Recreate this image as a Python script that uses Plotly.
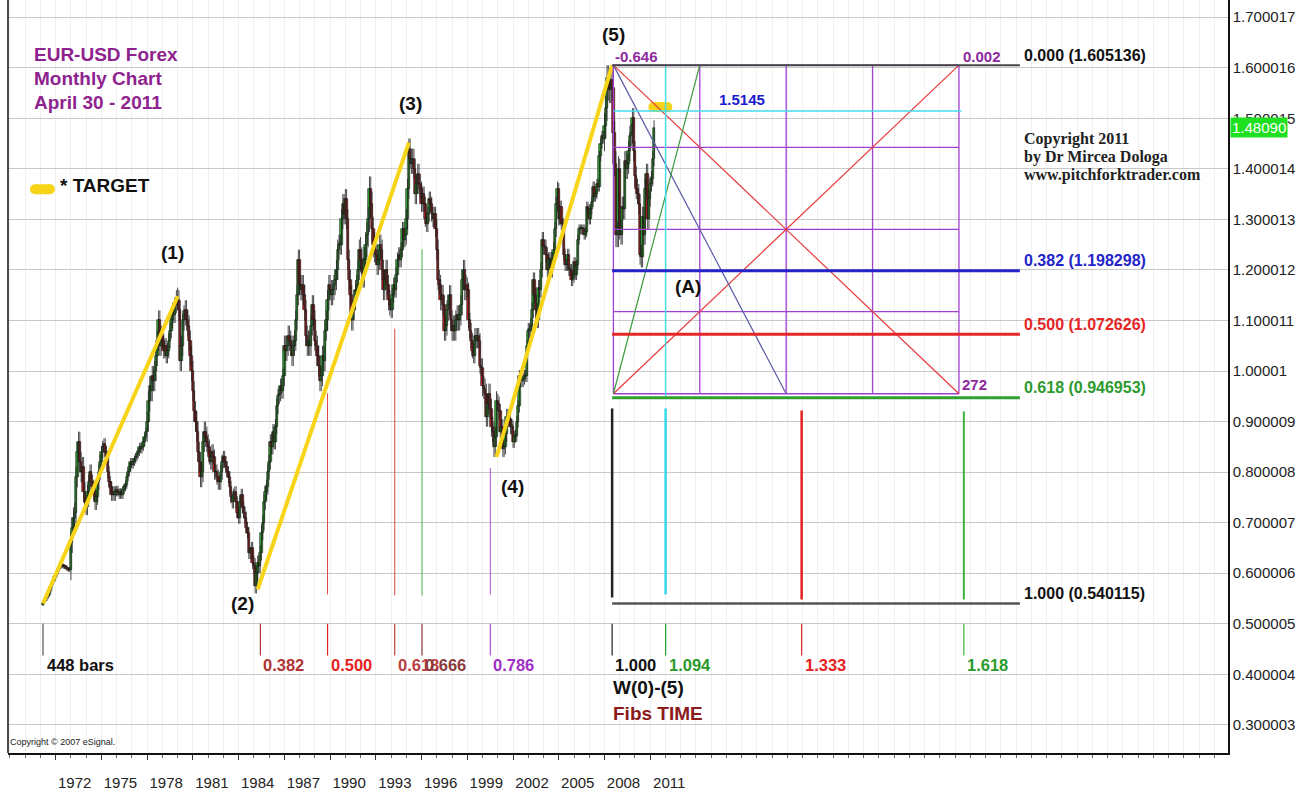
"""EUR-USD monthly chart with Elliott waves, Fibonacci price and time levels."""

import plotly.graph_objects as go

# === Monthly closes (first bar = March 1971) ===
closes_1971_1979 = [
    0.541, 0.545, 0.548, 0.552, 0.556, 0.565, 0.572, 0.580, 0.585, 0.592,
    0.596, 0.602, 0.608, 0.612, 0.614, 0.615, 0.613, 0.612, 0.611, 0.608, 0.607, 0.606,
    0.660, 0.690, 0.710, 0.720, 0.790, 0.840, 0.860, 0.820, 0.800, 0.810, 0.760, 0.740,
    0.730, 0.760, 0.780, 0.800, 0.780, 0.770, 0.760, 0.740, 0.750, 0.780, 0.800, 0.820,
    0.840, 0.850, 0.855, 0.840, 0.830, 0.800, 0.780, 0.770, 0.755, 0.760, 0.755, 0.760,
    0.765, 0.760, 0.755, 0.760, 0.755, 0.765, 0.770, 0.775, 0.790, 0.800, 0.810, 0.820,
    0.815, 0.820, 0.825, 0.830, 0.835, 0.840, 0.850, 0.845, 0.850, 0.860, 0.870, 0.880,
    0.900, 0.940, 0.970, 0.960, 0.990, 0.980, 1.000, 1.030, 1.060, 1.100, 1.050, 1.070,
    1.060, 1.040, 1.050, 1.030, 1.040, 1.060, 1.080, 1.100, 1.120, 1.110, 1.130, 1.145,
]
closes_1980_1989 = [
    1.140, 1.120, 1.020, 1.050, 1.100, 1.110, 1.120, 1.100, 1.090, 1.060, 1.030, 1.000,
    0.960, 0.920, 0.900, 0.880, 0.840, 0.820, 0.790, 0.800, 0.860, 0.880, 0.870, 0.860,
    0.850, 0.830, 0.820, 0.840, 0.830, 0.800, 0.800, 0.790, 0.780, 0.780, 0.800, 0.820,
    0.830, 0.820, 0.810, 0.800, 0.790, 0.770, 0.750, 0.740, 0.755, 0.760, 0.740, 0.720,
    0.710, 0.740, 0.755, 0.730, 0.720, 0.710, 0.690, 0.680, 0.640, 0.640, 0.650, 0.620,
    0.615, 0.575, 0.600, 0.620, 0.615, 0.640, 0.680, 0.700, 0.740, 0.760, 0.770, 0.800,
    0.820, 0.860, 0.850, 0.880, 0.860, 0.890, 0.930, 0.950, 0.955, 0.970, 0.960, 0.990,
    1.050, 1.040, 1.050, 1.070, 1.060, 1.050, 1.030, 1.050, 1.060, 1.100, 1.150, 1.220,
    1.170, 1.160, 1.170, 1.150, 1.120, 1.070, 1.050, 1.060, 1.050, 1.090, 1.130, 1.100,
    1.060, 1.050, 1.030, 1.010, 0.980, 0.990, 1.030, 1.020, 1.080, 1.100, 1.140, 1.170,
]
closes_1990_1999 = [
    1.160, 1.150, 1.160, 1.170, 1.180, 1.200, 1.240, 1.250, 1.250, 1.300, 1.330, 1.310,
    1.340, 1.300, 1.220, 1.180, 1.150, 1.100, 1.120, 1.140, 1.160, 1.170, 1.200, 1.240,
    1.220, 1.200, 1.190, 1.220, 1.250, 1.270, 1.300, 1.360, 1.330, 1.280, 1.250, 1.240,
    1.230, 1.210, 1.220, 1.250, 1.240, 1.200, 1.160, 1.180, 1.200, 1.170, 1.140, 1.130,
    1.120, 1.150, 1.170, 1.160, 1.190, 1.220, 1.230, 1.220, 1.240, 1.280, 1.260, 1.270,
    1.300, 1.360, 1.440, 1.420, 1.410, 1.420, 1.400, 1.350, 1.370, 1.390, 1.370, 1.360,
    1.330, 1.350, 1.330, 1.300, 1.290, 1.310, 1.340, 1.330, 1.310, 1.300, 1.310, 1.280,
    1.240, 1.180, 1.170, 1.140, 1.150, 1.130, 1.080, 1.090, 1.120, 1.130, 1.150, 1.100,
    1.080, 1.090, 1.080, 1.100, 1.110, 1.100, 1.110, 1.130, 1.180, 1.200, 1.160, 1.170,
    1.160, 1.100, 1.080, 1.060, 1.040, 1.030, 1.070, 1.060, 1.070, 1.060, 1.010, 1.005,
]
closes_2000_2011 = [
    0.970, 0.965, 0.955, 0.910, 0.935, 0.955, 0.925, 0.890, 0.880, 0.850, 0.870, 0.940,
    0.935, 0.920, 0.880, 0.890, 0.845, 0.850, 0.875, 0.910, 0.910, 0.905, 0.890, 0.890,
    0.860, 0.870, 0.872, 0.900, 0.930, 0.990, 0.980, 0.980, 0.985, 0.990, 0.990, 1.050,
    1.080, 1.080, 1.090, 1.120, 1.180, 1.150, 1.120, 1.100, 1.165, 1.160, 1.200, 1.260,
    1.245, 1.245, 1.230, 1.200, 1.220, 1.220, 1.200, 1.220, 1.240, 1.280, 1.330, 1.360,
    1.300, 1.325, 1.290, 1.290, 1.230, 1.210, 1.210, 1.230, 1.200, 1.200, 1.180, 1.185,
    1.215, 1.190, 1.210, 1.260, 1.280, 1.280, 1.280, 1.280, 1.270, 1.275, 1.325, 1.320,
    1.300, 1.320, 1.335, 1.365, 1.345, 1.350, 1.370, 1.365, 1.425, 1.450, 1.465, 1.460,
    1.485, 1.520, 1.580, 1.560, 1.555, 1.575, 1.560, 1.470, 1.410, 1.270, 1.270, 1.400,
    1.280, 1.270, 1.325, 1.320, 1.415, 1.400, 1.410, 1.435, 1.465, 1.470, 1.500, 1.435,
    1.385, 1.360, 1.350, 1.330, 1.230, 1.225, 1.305, 1.270, 1.360, 1.390, 1.300, 1.340,
    1.370, 1.380, 1.420, 1.481,
]
first_open = 0.538
last_price = 1.48090

# typical wick length beyond the candle body, per year 1971..2011
wick_by_year = [
    0.003, 0.004, 0.020, 0.015, 0.012, 0.008, 0.008, 0.020, 0.015, 0.020,
    0.020, 0.015, 0.012, 0.012, 0.015, 0.015, 0.020, 0.020, 0.020, 0.020,
    0.020, 0.025, 0.020, 0.015, 0.020, 0.015, 0.020, 0.020, 0.015, 0.020,
    0.015, 0.012, 0.015, 0.015, 0.012, 0.010, 0.010, 0.025, 0.020, 0.020,
    0.015,
]

# Elliott wave pivots (bar index, price)
wave_bars = [0, 106, 169, 288, 357, 448]
wave_prices = [0.540, 1.148, 0.568, 1.452, 0.830, 1.605]
wave_names = ["(1)", "(2)", "(3)", "(4)", "(5)", "(A)"]
wave_label_bars = [102.3, 157.4, 288.9, 369.2, 448.7, 507.7]
wave_label_prices = [1.2335, 0.5399, 1.529, 0.7724, 1.665, 1.1665]

# Year axis
years = [1972, 1975, 1978, 1981, 1984, 1987, 1990, 1993, 1996, 1999, 2002, 2005, 2008, 2011]

# Fibonacci price retracement of (0)-(5)
fib_high = 1.605136
fib_low = 0.540115
fib_price_ratios = [0.000, 0.382, 0.500, 0.618, 1.000]
fib_price_colors = ["#444444", "#2424c8", "#e52626", "#30a030", "#555555"]
fib_price_label_colors = ["#111111", "#2424c8", "#e52626", "#2e9a2e", "#111111"]
fib_price_widths = [2, 3, 3, 3, 2.5]

# Fibonacci time ratios of the 448 bar wave (0)-(5)
wave_bar_count = 448
time_ratios = [0.382, 0.500, 0.618, 0.666, 0.786, 1.000, 1.094, 1.333, 1.618]
time_labels = ["0.382", "0.500", "0.618", "0.666", "0.786", "1.000", "1.094", "1.333", "1.618"]
time_label_colors = ["#b03434", "#e52222", "#b84040", "#8b3a3a", "#a030c8",
                     "#111111", "#2a9a2a", "#e52222", "#2a9a2a"]
time_tick_colors = ["#b03434", "#e52222", "#b84040", "#8b3a3a", "#b050d8",
                    "#222222", "#2a9a2a", "#e52222", "#3cb43c"]
time_line_colors = [None, "#e04040", "#d84a4a", "#4cbc4c", "#b050d8",
                    "#222222", "#35d8ea", "#e52222", "#3cb43c"]
time_line_tops = [None, 0.956, 1.084, 1.241, 0.808, 0.926, 0.926, 0.922, 0.920]
time_line_bottoms = [None, 0.558, 0.556, 0.556, 0.558, 0.552, 0.558, 0.548, 0.548]
time_line_widths = [None, 1, 1, 1, 1, 2.5, 2.5, 2.5, 2]

# Square of price / time box
box_start = 449
box_bars = 272
box_top = 1.605136
box_bottom = 0.955
target_level = 1.5145

# y axis ticks
y_ticks = [0.300003, 0.400004, 0.500005, 0.600006, 0.700007, 0.800008, 0.900009,
           1.00001, 1.100011, 1.200012, 1.300013, 1.400014, 1.500015, 1.600016, 1.700017]

FONT = "Liberation Sans, Arial, sans-serif"
PURPLE = "#8e228e"
YELLOW = "#f7d417"

closes = closes_1971_1979 + closes_1980_1989 + closes_1990_1999 + closes_2000_2011
bars = list(range(len(closes)))
opens = [first_open] + closes[:-1]
bar_years = [(b + 2) // 12 for b in bars]
highs = [max(o, c) + wick_by_year[y] for o, c, y in zip(opens, closes, bar_years)]
lows = [min(o, c) - wick_by_year[y] for o, c, y in zip(opens, closes, bar_years)]

fig = go.Figure()

# wicks
wx, wy = [], []
for b, h, l in zip(bars, highs, lows):
    wx += [b, b, None]
    wy += [l, h, None]
fig.add_trace(go.Scatter(x=wx, y=wy, mode="lines", line=dict(color="#1a1a1a", width=0.8),
                         showlegend=False, hoverinfo="skip"))

# candle bodies
fig.add_trace(go.Bar(
    x=bars,
    y=[max(abs(c - o), 0.003) for o, c in zip(opens, closes)],
    base=[min(o, c) for o, c in zip(opens, closes)],
    width=1.9,
    marker=dict(color=["#2fae2f" if c >= o else "#b82222" for o, c in zip(opens, closes)],
                line=dict(color="#161616", width=0.6)),
    showlegend=False, hoverinfo="skip",
))

shapes = []


def seg(x0, y0, x1, y1, color, width=1):
    shapes.append(dict(type="line", xref="x", yref="y", x0=x0, y0=y0, x1=x1, y1=y1,
                       line=dict(color=color, width=width)))


# yellow impulse legs 0-1, 2-3, 4-5
for i in (0, 2, 4):
    seg(wave_bars[i], wave_prices[i], wave_bars[i + 1], wave_prices[i + 1], YELLOW, 4)

# price box
box_end = box_start + box_bars
for k in range(5):
    bx = box_start + k * box_bars / 4
    seg(bx, box_bottom, bx, box_top, "#a040d0", 1.3)
    py = box_bottom + k * (box_top - box_bottom) / 4
    seg(box_start, py, box_end, py, "#a040d0", 1.3)
seg(box_start, box_top, box_end, box_bottom, "#e83a3a", 1.2)
seg(box_start, box_bottom, box_end, box_top, "#e83a3a", 1.2)
seg(box_start, box_top, box_start + box_bars / 2, box_bottom, "#5a5aa8", 1.2)
seg(box_start, box_bottom, box_start + box_bars / 4, box_top, "#3a9a3a", 1.2)
seg(box_start, target_level, box_end + 2, target_level, "#45dcec", 1.5)
seg(wave_bar_count * 1.094, box_top, wave_bar_count * 1.094, 0.95, "#45dcec", 1.5)

# fib price levels
fib_line_end = 769
for r, col, w in zip(fib_price_ratios, fib_price_colors, fib_price_widths):
    lvl = fib_high - r * (fib_high - fib_low)
    seg(wave_bar_count, lvl, fib_line_end, lvl, col, w)

# fib time lines and ticks
seg(0, 0.500, 0, 0.437, "#555555", 1.2)
for r, tcol, lcol, top, bot, w in zip(time_ratios, time_tick_colors, time_line_colors,
                                      time_line_tops, time_line_bottoms, time_line_widths):
    bx = wave_bar_count * r
    seg(bx, 0.500, bx, 0.437, tcol, 1.2)
    if top is not None:
        seg(bx, top, bx, bot, lcol, w)

# left frame
shapes.append(dict(type="line", xref="paper", yref="paper", x0=0, x1=0, y0=0, y1=1,
                   line=dict(color="#111111", width=1.5)))

# yellow target pills
for xs, yv in (([480.5, 491.5], 1.5222), ([-6.3, 5.5], 1.3596)):
    fig.add_trace(go.Scatter(
        x=xs, y=[yv, yv], mode="lines+markers",
        line=dict(color=YELLOW, width=10), marker=dict(color=YELLOW, size=10),
        showlegend=False, hoverinfo="skip",
    ))

ann = []


def text(x, y, s, color="#111111", size=19, bold=True, xanchor="left", family=FONT, yshift=0):
    ann.append(dict(x=x, y=y, xref="x", yref="y", text=f"<b>{s}</b>" if bold else s,
                    showarrow=False, xanchor=xanchor, yanchor="middle", yshift=yshift,
                    font=dict(family=family, size=size, color=color)))


text(-8.7, 1.6256, "EUR-USD Forex", PURPLE)
text(-8.7, 1.5783, "Monthly Chart", PURPLE)
text(-8.7, 1.5310, "April 30 - 2011", PURPLE)
text(11.8, 1.3675, "* TARGET")

for name, bx, py in zip(wave_names, wave_label_bars, wave_label_prices):
    text(bx, py, name, xanchor="center")

serif = "Liberation Serif, Times New Roman, serif"
text(770.7, 1.4581, "Copyright 2011", "#222222", 16, family=serif)
text(770.7, 1.4226, "by Dr Mircea Dologa", "#222222", 16, family=serif)
text(770.7, 1.3872, "www.pitchforktrader.com", "#222222", 16, family=serif)
text(-27.2, 0.2661, "Copyright © 2007 eSignal.", "#222222", 9, bold=False)

text(448.7, 1.6217, "-0.646", "#8e2a9e", 15)
text(722.7, 1.6217, "0.002", "#8e2a9e", 15)
text(721.9, 0.9734, "272", "#8e2a9e", 15)
text(530.6, 1.5370, "1.5145", "#1a1ad0", 15)

for r, lcol in zip(fib_price_ratios, fib_price_label_colors):
    lvl = fib_high - r * (fib_high - fib_low)
    text(770.7, lvl, f"{r:.3f} ({lvl:.6f})", lcol, 16, yshift=10)

text(1.5, 0.4178, "448 bars", "#111111", 16.5)
for r, s, c in zip(time_ratios, time_labels, time_label_colors):
    text(wave_bar_count * r + 0.8, 0.4178, s, c, 16.5)
text(447, 0.3744, "W(0)-(5)", "#111111", 19)
text(447, 0.3232, "Fibs TIME", "#8b1a1a", 19)

ann.append(dict(x=1, y=last_price, xref="paper", yref="y", text=f"{last_price:.5f}",
                showarrow=False, xanchor="left", yanchor="middle", xshift=2,
                bgcolor="#1ee01e", borderpad=1,
                font=dict(family=FONT, size=15, color="#ffffff")))

fig.update_layout(
    width=1313, height=791,
    margin=dict(l=8, r=85, t=0, b=35),
    paper_bgcolor="#ffffff", plot_bgcolor="#ffffff",
    font=dict(family=FONT, color="#111111"),
    shapes=shapes, annotations=ann,
    showlegend=False,
    bargap=0,
    xaxis=dict(
        range=[-27.55, 932.8],
        tickmode="array",
        tickvals=[(y - 1971) * 12 - 2 for y in years],
        ticktext=[str(y) for y in years],
        tickfont=dict(family=FONT, size=15, color="#222222"),
        ticks="outside", ticklen=5, tickcolor="#333333",
        ticklabelshift=19, ticklabelstandoff=10,
        showline=True, linecolor="#111111", linewidth=1.5,
        showgrid=False, zeroline=False,
        minor=dict(tick0=-2, dtick=12, ticks="outside", ticklen=3, tickcolor="#666666",
                   showgrid=True, gridcolor="#f1f1f1"),
        fixedrange=True,
    ),
    yaxis=dict(
        side="right",
        range=[0.2443, 1.734],
        tickmode="array",
        tickvals=y_ticks,
        ticktext=[f"{v:g}" if v == 1.00001 else f"{v:.6f}" for v in y_ticks],
        tickfont=dict(family=FONT, size=15, color="#222222"),
        ticks="",
        showline=True, linecolor="#111111", linewidth=1.5,
        showgrid=True, gridcolor="#c8c8c8", gridwidth=1.3,
        zeroline=False, fixedrange=True,
    ),
)

# the page body has a default 8px margin; drop it so the figure sits at the window corner
fig.write_html("out.html", config={"displayModeBar": False},
               post_script="document.body.style.margin='0';")
